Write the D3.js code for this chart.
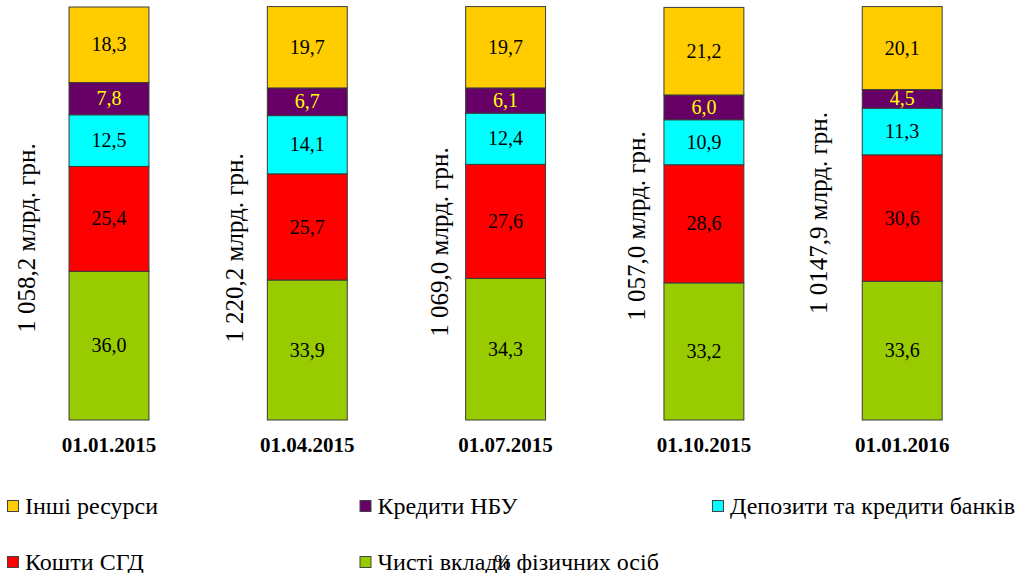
<!DOCTYPE html>
<html>
<head>
<meta charset="utf-8">
<script src="https://cdn.jsdelivr.net/npm/d3@7"></script>
<style>
  html, body { margin: 0; padding: 0; background: #fff; }
  svg { display: block; }
</style>
</head>
<body>
<svg id="chart" width="1018" height="573"></svg>
<script>
// ---- data ----
const categories = ["01.01.2015", "01.04.2015", "01.07.2015", "01.10.2015", "01.01.2016"];
const totalLabels = ["1 058,2 млрд. грн.", "1 220,2 млрд. грн.", "1 069,0 млрд. грн.", "1 057,0 млрд. грн.", "1 0147,9 млрд. грн."];
const seriesNames = ["Чисті вклади фізичних осіб", "Кошти СГД", "Депозити та кредити банків", "Кредити НБУ", "Інші ресурси"];
const households = [36.0, 33.9, 34.3, 33.2, 33.6];
const dgfFunds   = [25.4, 25.7, 27.6, 28.6, 30.6];
const bankDeposits = [12.5, 14.1, 12.4, 10.9, 11.3];
const nbuCredits = [7.8, 6.7, 6.1, 6.0, 4.5];
const otherRes   = [18.3, 19.7, 19.7, 21.2, 20.1];
const unitLabel = "%";

// ---- styling / layout ----
const FONT = "Liberation Serif, DejaVu Serif, serif";
const colors = ["#99CC00", "#FF0000", "#00FFFF", "#660066", "#FFCC00"];
const labelColors = ["#000", "#000", "#000", "#FFFF00", "#000"];
// manual placement of the rotated total labels (left of each bar)
const totalLabelGap = [34, 24, 18, 19, 35];
const totalLabelCy = [238, 248, 242, 226, 213];

const svg = d3.select("#chart").attr("font-family", FONT);
const seriesValues = [households, dgfFunds, bankDeposits, nbuCredits, otherRes];
const keys = seriesNames;
const table = categories.map((c, i) => {
  const row = { cat: c };
  keys.forEach((k, j) => row[k] = seriesValues[j][i]);
  return row;
});
const stacked = d3.stack().keys(keys)(table);

const x = d3.scaleBand().domain(categories).range([9.85, 1001.35]).paddingInner(0.597).paddingOuter(0.2985);
const y = d3.scaleLinear().domain([0, 100]).range([420, 7]);

const g = svg.append("g");
const layers = g.selectAll("g.layer").data(stacked).join("g").attr("class", "layer");
layers.each(function(layer, li) {
  const sel = d3.select(this);
  sel.selectAll("rect").data(layer).join("rect")
    .attr("x", d => x(d.data.cat))
    .attr("y", d => y(d[1]))
    .attr("width", x.bandwidth())
    .attr("height", d => y(d[0]) - y(d[1]))
    .attr("fill", colors[li])
    .attr("stroke", "#3a3a3a")
    .attr("stroke-width", 1);
  sel.selectAll("text").data(layer).join("text")
    .attr("x", d => x(d.data.cat) + x.bandwidth() / 2)
    .attr("y", d => (y(d[0]) + y(d[1])) / 2)
    .attr("dy", "0.33em")
    .attr("text-anchor", "middle")
    .attr("font-family", FONT)
    .attr("font-size", 20)
    .attr("fill", labelColors[li])
    .text(d => d3.format(".1f")(d[1] - d[0]).replace(".", ","));
});

// category axis labels
const xAxis = d3.axisBottom(x).tickSize(0).tickPadding(0);
const ax = svg.append("g").attr("transform", "translate(0,437)").call(xAxis)
  .attr("font-family", FONT);
ax.select(".domain").remove();
ax.selectAll("text")
  .attr("font-family", FONT)
  .attr("font-size", 21)
  .attr("font-weight", "bold")
  .attr("fill", "#000")
  .attr("dy", "0.71em");

// rotated totals
svg.selectAll("text.total").data(categories).join("text")
  .attr("class", "total")
  .attr("transform", (c, i) => `translate(${x(c) - totalLabelGap[i]},${totalLabelCy[i]}) rotate(-90)`)
  .attr("text-anchor", "middle")
  .attr("font-family", FONT)
  .attr("font-size", 25)
  .attr("fill", "#000")
  .text((c, i) => totalLabels[i]);

// legend
const legendOrder = [4, 3, 2, 1, 0];
const legendPos = [[7, 0], [359.5, 0], [712, 0], [7, 1], [359.5, 1]];
const lg = svg.append("g");
legendOrder.forEach((si, k) => {
  const [lx, row] = legendPos[k];
  const ly = row === 0 ? 500 : 556;
  lg.append("rect").attr("x", lx + 0.5).attr("y", ly + 0.5).attr("width", 11).attr("height", 11)
    .attr("fill", colors[si]).attr("stroke", "#444").attr("stroke-width", 1);
  lg.append("text").attr("x", lx + 18).attr("y", ly + 13.5)
    .attr("font-family", FONT)
    .attr("font-size", 24).attr("fill", "#000").text(seriesNames[si]);
});

svg.append("text").attr("x", 494).attr("y", 569).attr("font-family", FONT)
  .attr("font-size", 20).attr("fill", "#000").text(unitLabel);
</script>
</body>
</html>
